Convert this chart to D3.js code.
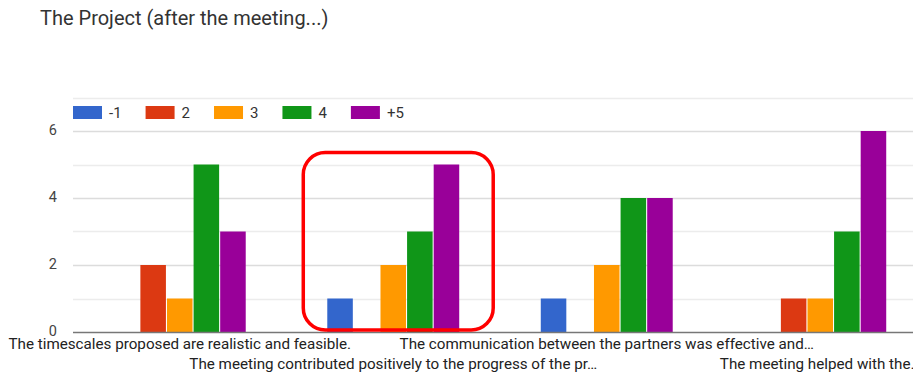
<!DOCTYPE html>
<html>
<head>
<meta charset="utf-8">
<script src="https://cdn.jsdelivr.net/npm/d3@7"></script>
<style>
  html, body { margin: 0; padding: 0; background: #fff; }
  svg { display: block; font-family: Roboto, "Noto Sans", Arial, sans-serif; }
</style>
</head>
<body>
<svg id="chart" width="913" height="374"></svg>
<script>
// Questions (categories) as shown on the axis
const categories = [
  "The timescales proposed are realistic and feasible.",
  "The meeting contributed positively to the progress of the pr\u2026",
  "The communication between the partners was effective and\u2026",
  "The meeting helped with the\u2026"
];

// Rating options (series)
const seriesNames = ["-1", "2", "3", "4", "+5"];
const seriesColors = ["#3366cc", "#dc3912", "#ff9900", "#109618", "#990099"];

// Number of responses per rating, one array per series (in category order)
const ratingMinus1 = [0, 1, 1, 0];
const rating2      = [2, 0, 0, 1];
const rating3      = [1, 2, 2, 1];
const rating4      = [5, 3, 4, 3];
const ratingPlus5  = [3, 5, 4, 6];
const seriesValues = [ratingMinus1, rating2, rating3, rating4, ratingPlus5];

const yTickValues = [0, 2, 4, 6];
const yGridValues = [1, 2, 3, 4, 5, 6, 7];

const title = "The Project (after the meeting...)";
const highlightedCategory = 1;

const svg = d3.select("#chart");

const left = 73, right = 927, baseY = 332, topY = 97.5;

const x0 = d3.scaleBand()
  .domain(categories)
  .range([left, right])
  .paddingInner(0.382)
  .paddingOuter(0.191);

const x1 = d3.scaleBand()
  .domain(seriesNames)
  .range([0, x0.bandwidth()])
  .paddingInner(0.04);

const y = d3.scaleLinear().domain([0, 7]).range([baseY, topY]);

// Title
svg.append("text")
  .attr("x", 40).attr("y", 25)
  .attr("font-size", 20)
  .attr("fill", "#333")
  .text(title);

// Gridlines
svg.append("g")
  .selectAll("line")
  .data(yGridValues)
  .join("line")
  .attr("x1", left).attr("x2", 913)
  .attr("y1", d => Math.round(y(d)) + 0.5)
  .attr("y2", d => Math.round(y(d)) + 0.5)
  .attr("stroke", d => d % 2 === 0 ? "#dcdcdc" : "#ececec")
  .attr("stroke-width", 1.5);

// Y axis tick labels
const yAxis = d3.axisLeft(y).tickValues(yTickValues).tickFormat(d3.format("d"))
  .tickSize(0).tickPadding(0);
svg.append("g")
  .attr("transform", `translate(${left - 16},-1.5)`)
  .call(yAxis)
  .call(g => g.select(".domain").remove())
  .call(g => g.selectAll("text")
    .attr("font-size", 14.5)
    .attr("font-family", "Roboto, 'Noto Sans', Arial, sans-serif")
    .attr("fill", "#444"));

// Bars
const groups = svg.append("g")
  .selectAll("g")
  .data(categories)
  .join("g")
  .attr("transform", d => `translate(${x0(d)},0)`);

groups.selectAll("rect")
  .data((d, ci) => seriesNames.map((s, si) => ({ s, si, v: seriesValues[si][ci] })))
  .join("rect")
  .filter(d => d.v > 0)
  .attr("x", d => x1(d.s))
  .attr("y", d => y(d.v))
  .attr("width", x1.bandwidth())
  .attr("height", d => y(0) - y(d.v))
  .attr("fill", d => seriesColors[d.si]);

// Baseline
svg.append("line")
  .attr("x1", left).attr("x2", 913)
  .attr("y1", baseY + 0.5).attr("y2", baseY + 0.5)
  .attr("stroke", "#777").attr("stroke-width", 1.5);

// Category labels, alternating rows
svg.append("g")
  .selectAll("text")
  .data(categories)
  .join("text")
  .attr("x", d => x0(d) + x0.bandwidth() / 2)
  .attr("y", (d, i) => i % 2 === 0 ? 348.5 : 369)
  .attr("text-anchor", "middle")
  .attr("font-size", 15.2)
  .attr("fill", "#222")
  .text(d => d);

// Legend
const legend = svg.append("g").attr("transform", "translate(73,106)");
let lx = 0;
seriesNames.forEach((name, i) => {
  const item = legend.append("g").attr("transform", `translate(${lx},0)`);
  item.append("rect")
    .attr("width", 29).attr("height", 13)
    .attr("fill", seriesColors[i]);
  const t = item.append("text")
    .attr("x", 36).attr("y", 12)
    .attr("font-size", 15)
    .attr("fill", "#333")
    .text(name);
  lx += 36 + t.node().getComputedTextLength() + 24;
});

// Highlight around one question group
const hc = categories[highlightedCategory];
svg.append("rect")
  .attr("x", x0(hc) - 24)
  .attr("y", y(5) - 12)
  .attr("width", x0.bandwidth() + 58)
  .attr("height", y(0) - y(5) + 10)
  .attr("rx", 22).attr("ry", 22)
  .attr("fill", "none")
  .attr("stroke", "#f00")
  .attr("stroke-width", 3.5);
</script>
</body>
</html>
